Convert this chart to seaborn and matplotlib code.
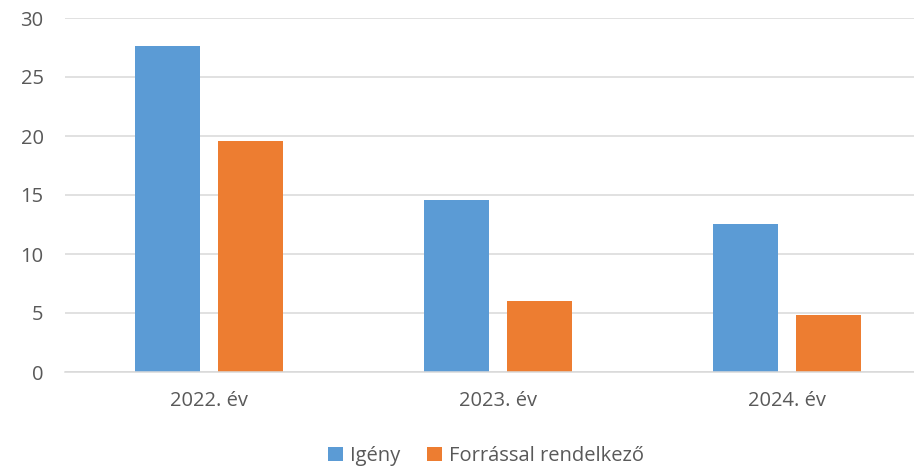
import matplotlib
matplotlib.use("Agg")
import matplotlib.pyplot as plt
import seaborn as sns
import pandas as pd

categories = ["2022. év", "2023. év", "2024. év"]
series_names = ["Igény", "Forrással rendelkező"]
igeny = [27.6, 14.6, 12.5]
forras = [19.6, 6.0, 4.8]
colors = ["#5B9BD5", "#ED7D31"]
yticks = [0, 5, 10, 15, 20, 25, 30]

df = pd.DataFrame({
    "cat": categories * 2,
    "series": [series_names[0]] * 3 + [series_names[1]] * 3,
    "value": igeny + forras,
})

sns.set_theme(style="white")
plt.rcParams["font.family"] = ["Open Sans", "DejaVu Sans"]
text_color = "#595959"

fig = plt.figure(figsize=(9.14, 4.69), dpi=100)
ax = fig.add_axes([64.5 / 914, 1 - 372 / 469, 867 / 914, (372 - 18) / 469])

sns.barplot(data=df, x="cat", y="value", hue="series", palette=colors,
            width=0.574, gap=0.217, ax=ax, legend=True,
            linewidth=0, saturation=1)

ax.set_ylim(0, 30)
ax.set_yticks(yticks)
ax.set_xlim(-0.5, 2.5)
ax.yaxis.grid(True, color="#D9D9D9", linewidth=1.1)
ax.set_axisbelow(True)
for s in ["top", "right", "left"]:
    ax.spines[s].set_visible(False)
ax.spines["bottom"].set_color("#D9D9D9")
ax.spines["bottom"].set_linewidth(1.1)
ax.tick_params(axis="y", length=0, pad=15, labelsize=14.5, labelcolor=text_color)
ax.tick_params(axis="x", length=0, pad=14, labelsize=14.5, labelcolor=text_color)
ax.set_xlabel("")
ax.set_ylabel("")

handles, labels = ax.get_legend_handles_labels()
ax.get_legend().remove()
leg = fig.legend(handles, labels, loc="center", bbox_to_anchor=(486 / 914, 1 - 456 / 469),
                 ncol=2, frameon=False, fontsize=14.5, handlelength=0.75, handleheight=0.75,
                 handletextpad=0.35, columnspacing=1.35, labelcolor=text_color)

fig.savefig("out.png", dpi=100)
